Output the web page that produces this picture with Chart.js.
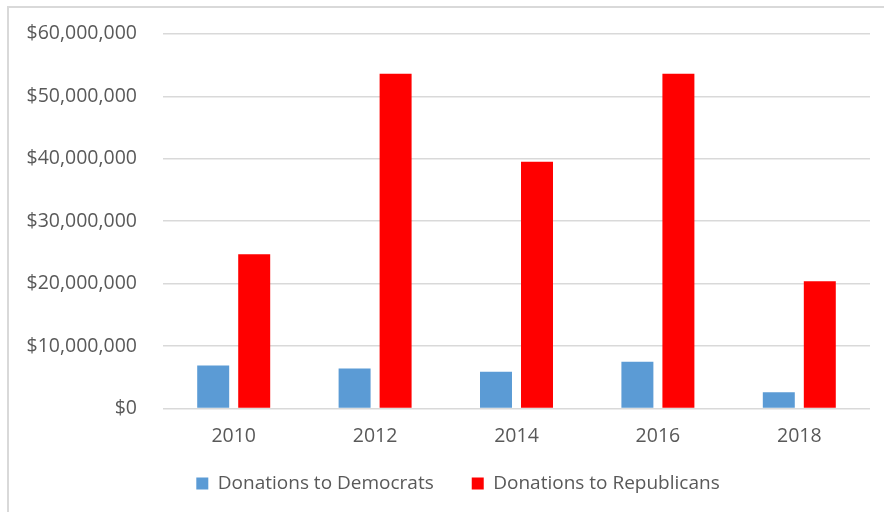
<!DOCTYPE html>
<html>
<head>
<meta charset="utf-8">
<script src="https://cdn.jsdelivr.net/npm/chart.js@4/dist/chart.umd.min.js"></script>
<style>
  html, body { margin: 0; padding: 0; background: #fff; }
  #frame { position: absolute; left: 7px; top: 6px; width: 900px; height: 540px; border: 2px solid #d9d9d9; }
  #wrap { position: absolute; left: 0; top: 0; width: 884px; height: 512px; }
</style>
</head>
<body>
<div id="frame"></div>
<div id="wrap"><canvas id="myChart"></canvas></div>
<script>
var years = ['2010', '2012', '2014', '2016', '2018'];
var democrats = [6900000, 6400000, 5900000, 7500000, 2600000];
var republicans = [24700000, 53600000, 39500000, 53600000, 20400000];
var yTicks = [0, 10000000, 20000000, 30000000, 40000000, 50000000, 60000000];

// legend: fixed block height, then nudged to where the original has it
var legendPlace = {
    id: 'legendPlace',
    beforeInit: function (chart) {
        var fit = chart.legend.fit;
        chart.legend.fit = function () {
            fit.bind(chart.legend)();
            this.height = 56;
        };
    },
    afterLayout: function (chart) {
        chart.legend.top = 436;
        chart.legend.left += 23;
        chart.legend.right += 23;
    }
};

function viewChart() {
    var ctx = document.getElementById('myChart').getContext('2d');
    var grey = '#595959';
    var font = { family: 'Open Sans', size: 19.5 };

    var myBarChart = new Chart(ctx, {
        type: 'bar',
        data: {
            labels: years,
            datasets: [{
                label: 'Donations to Democrats',
                data: democrats,
                backgroundColor: '#5b9bd5'
            }, {
                label: 'Donations to Republicans',
                data: republicans,
                backgroundColor: '#ff0000'
            }]
        },
        options: {
            responsive: true,
            maintainAspectRatio: false,
            animation: false,
            categoryPercentage: 0.58,
            barPercentage: 0.78,
            layout: { padding: { top: 11, right: 14, bottom: 0, left: 0 } },
            plugins: {
                tooltip: { enabled: false },
                legend: {
                    position: 'bottom',
                    labels: {
                        color: grey,
                        font: { family: 'Open Sans', size: 19 },
                        boxWidth: 12,
                        boxHeight: 12,
                        padding: 38
                    }
                }
            },
            scales: {
                x: {
                    grid: { display: false },
                    border: { display: false },
                    ticks: { color: grey, font: font, padding: 8 }
                },
                y: {
                    min: 0,
                    max: 60000000,
                    afterFit: function (scale) { scale.width = 163; },
                    afterBuildTicks: function (scale) {
                        scale.ticks = yTicks.map(function (v) { return { value: v }; });
                    },
                    grid: { color: '#d9d9d9', lineWidth: 1.5, drawTicks: false },
                    border: { display: false },
                    ticks: {
                        color: grey,
                        font: { family: 'Open Sans', size: 19.5, lineHeight: 0.8 },
                        padding: 26,
                        callback: function (v) { return '$' + v.toLocaleString('en-US'); }
                    }
                }
            }
        },
        plugins: [legendPlace]
    });
}
viewChart();
</script>
</body>
</html>
